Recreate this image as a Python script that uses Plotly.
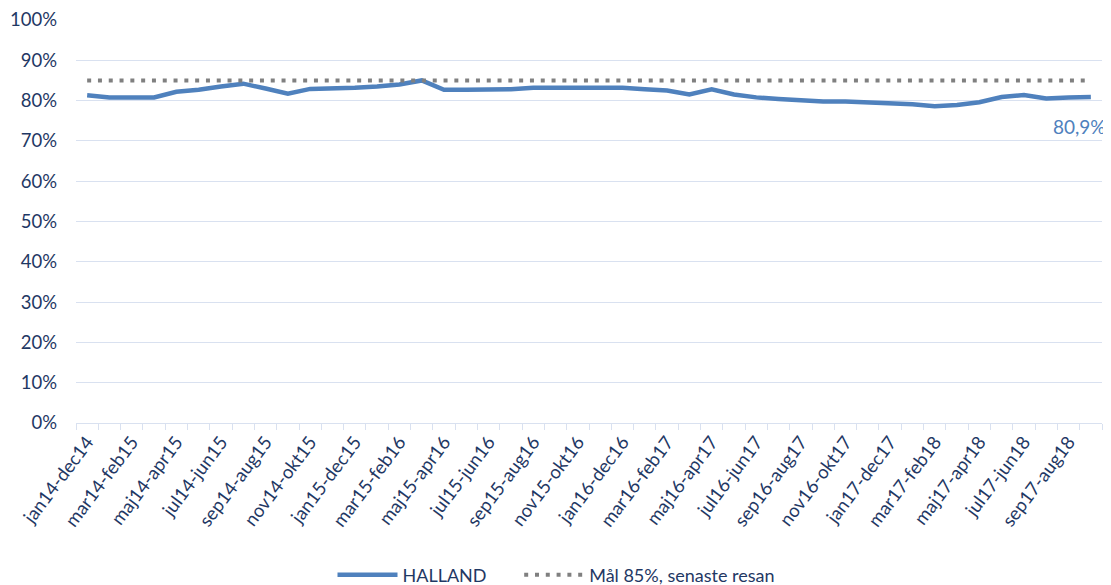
import plotly.graph_objects as go

categories = [
    "jan14-dec14", "feb14-jan15", "mar14-feb15", "apr14-mar15", "maj14-apr15", "jun14-maj15",
    "jul14-jun15", "aug14-jul15", "sep14-aug15", "okt14-sep15", "nov14-okt15", "dec14-nov15",
    "jan15-dec15", "feb15-jan16", "mar15-feb16", "apr15-mar16", "maj15-apr16", "jun15-maj16",
    "jul15-jun16", "aug15-jul16", "sep15-aug16", "okt15-sep16", "nov15-okt16", "dec15-nov16",
    "jan16-dec16", "feb16-jan17", "mar16-feb17", "apr16-mar17", "maj16-apr17", "jun16-maj17",
    "jul16-jun17", "aug16-jul17", "sep16-aug17", "okt16-sep17", "nov16-okt17", "dec16-nov17",
    "jan17-dec17", "feb17-jan18", "mar17-feb18", "apr17-mar18", "maj17-apr18", "jun17-maj18",
    "jul17-jun18", "aug17-jul18", "sep17-aug18", "okt17-sep18",
]

halland = [
    81.3, 80.8, 80.8, 80.8, 82.2, 82.7, 83.5, 84.2, 83.0, 81.7,
    82.9, 83.0, 83.2, 83.5, 84.0, 85.0, 82.7, 82.7, 82.7, 82.8,
    83.2, 83.2, 83.2, 83.2, 83.2, 82.8, 82.5, 81.5, 82.8, 81.5,
    80.8, 80.4, 80.0, 79.8, 79.8, 79.6, 79.3, 79.1, 78.6, 78.9,
    79.6, 80.9, 81.4, 80.5, 80.8, 80.9,
]

target = [85.0] * len(categories)

tick_labels = [c if i % 2 == 0 else "" for i, c in enumerate(categories)]

series_names = ["HALLAND", "Mål 85%, senaste resan"]
last_label = "80,9%"

FONT = "Lato"
TXT = "#1F3864"
LINE_BLUE = "#4F81BD"
GRID = "#D9E1F0"

PAD = "\u00a0" * 6  # extra gap after the first legend entry

fig = go.Figure()
fig.add_trace(go.Scatter(
    x=categories, y=halland, mode="lines", name=series_names[0] + PAD,
    line=dict(color=LINE_BLUE, width=4.5),
))
fig.add_trace(go.Scatter(
    x=categories, y=target, mode="lines", name=series_names[1],
    line=dict(color="#808080", width=4, dash="4px,6.8px"),
))

fig.add_annotation(
    x=categories[-1], y=halland[-1], text=last_label, showarrow=False,
    xanchor="right", yanchor="middle", xshift=17, yshift=-30,
    font=dict(family=FONT, size=19, color=LINE_BLUE),
)

# page body adds an 8px offset; figure sized to fit the visible window
fig.update_layout(
    width=1103, height=577,
    margin=dict(l=68, r=9, t=12, b=162, autoexpand=False),
    paper_bgcolor="white", plot_bgcolor="white",
    font=dict(family=FONT, size=18, color=TXT),
    showlegend=True,
    legend=dict(
        orientation="h", x=0.25, xanchor="left", y=-0.377, yanchor="middle",
        font=dict(family=FONT, size=18, color=TXT),
        itemwidth=60, traceorder="normal",
    ),
    xaxis=dict(
        type="category",
        tickmode="array", tickvals=categories, ticktext=tick_labels,
        tickangle=-53, tickson="boundaries",
        ticks="outside", ticklen=6, tickcolor=GRID, tickwidth=1,
        showgrid=False, showline=True, linecolor=GRID, linewidth=1,
        tickfont=dict(family=FONT, size=18.5, color=TXT),
        range=[-0.5, len(categories) - 0.5],
    ),
    yaxis=dict(
        range=[0, 100], dtick=10, ticksuffix="%",
        showgrid=True, gridcolor=GRID, gridwidth=1,
        zeroline=False, showline=False,
        tickfont=dict(family=FONT, size=18.5, color=TXT),
        ticklabelstandoff=18,
    ),
)

fig.write_html("out.html")
